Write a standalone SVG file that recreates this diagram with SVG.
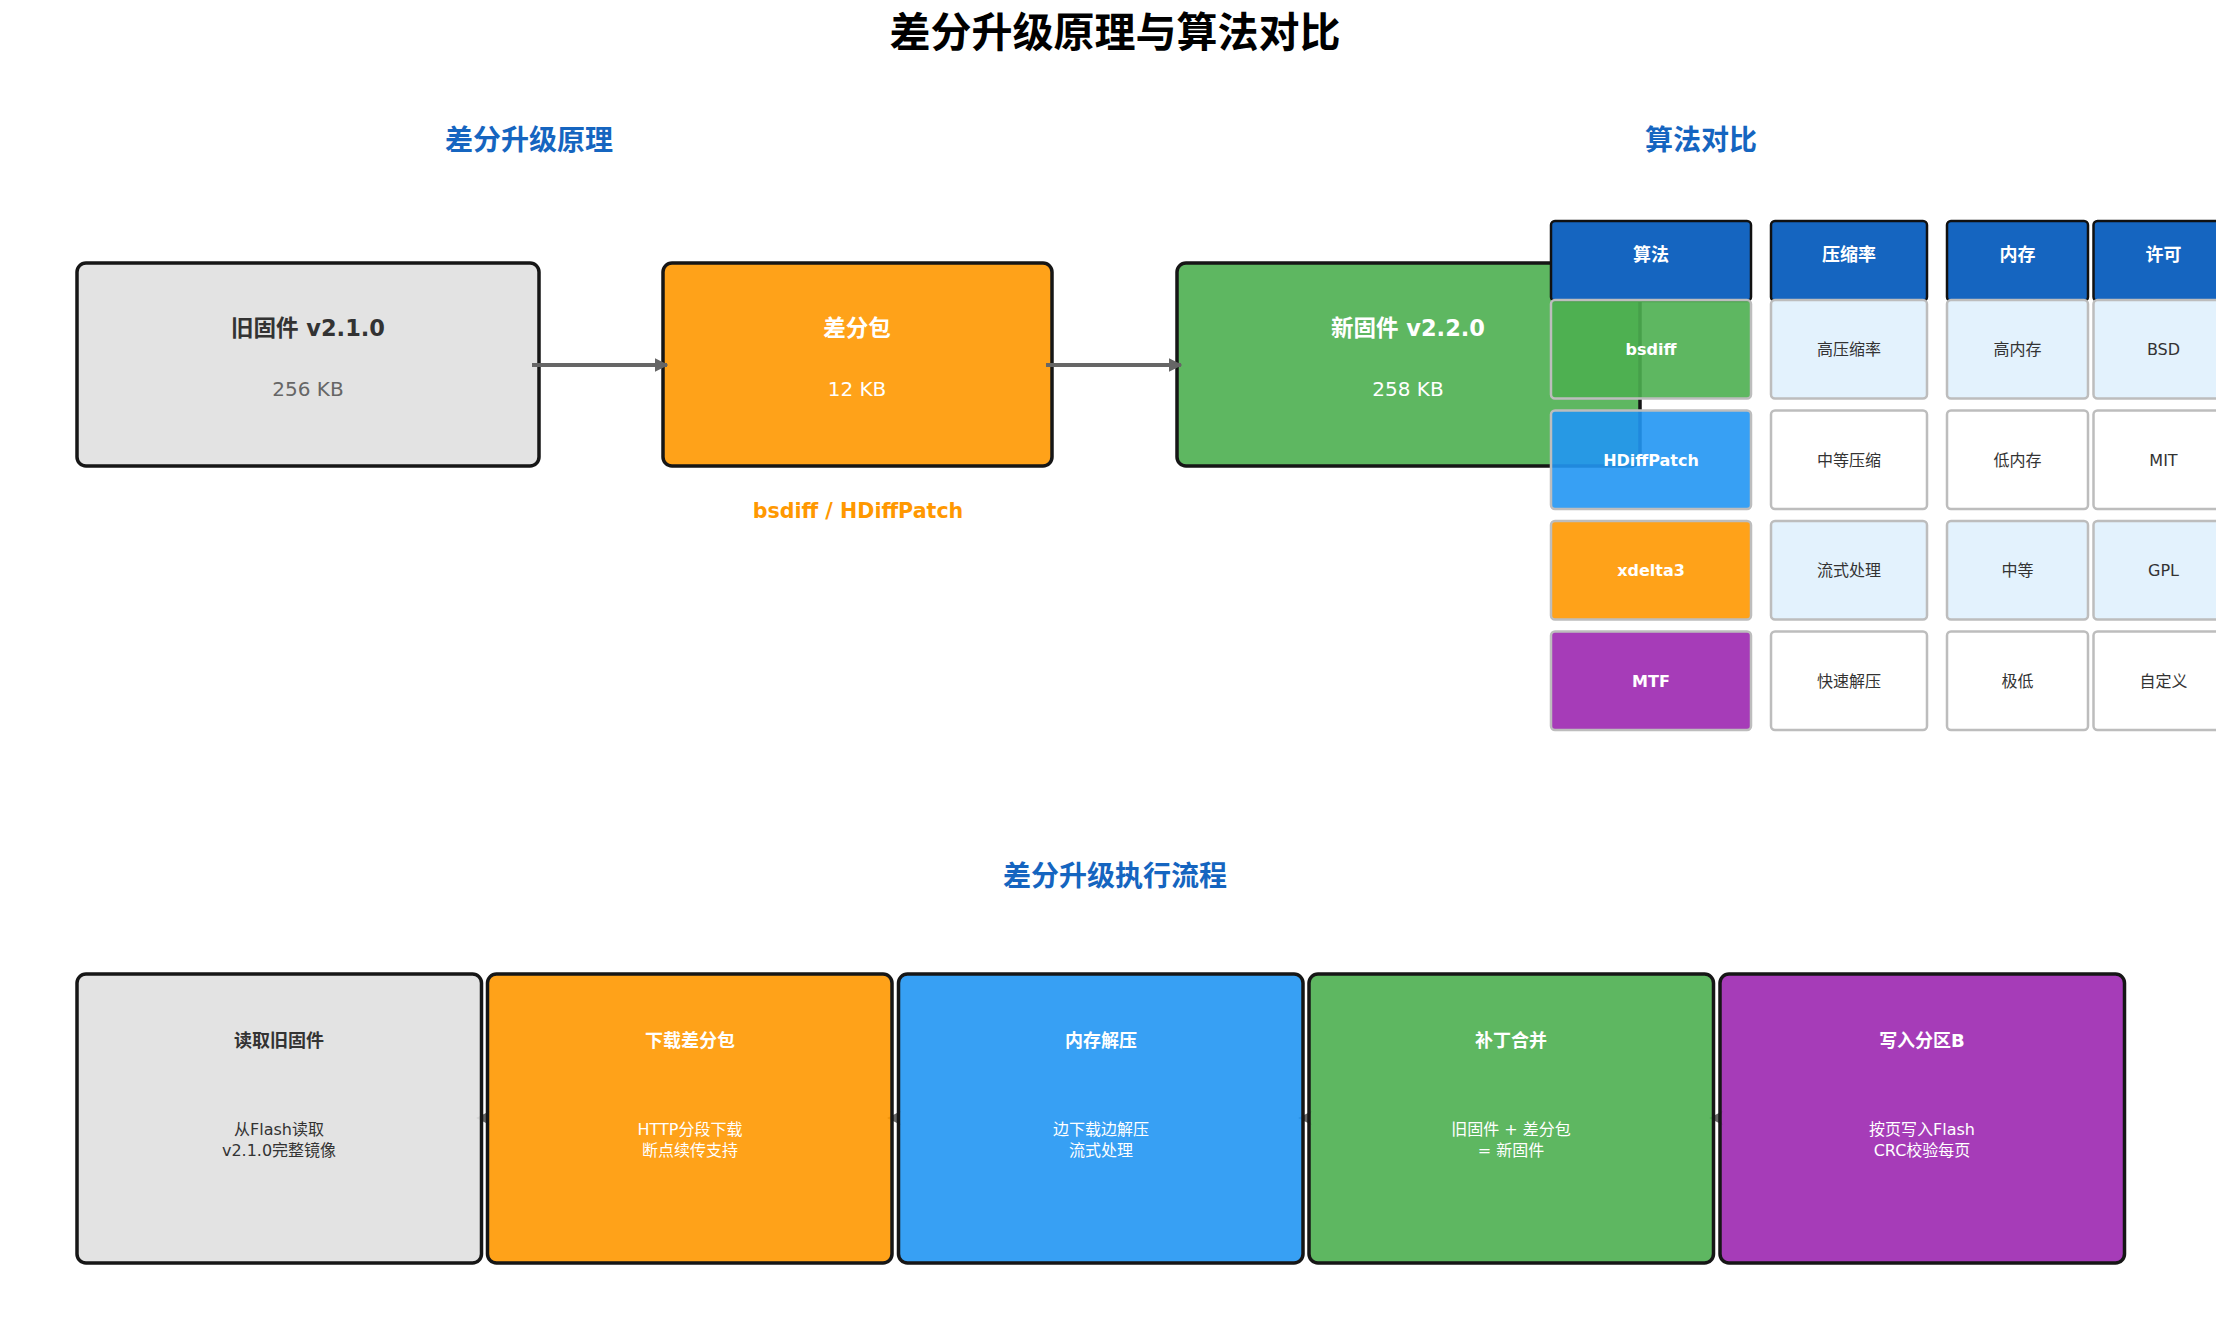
<svg xmlns="http://www.w3.org/2000/svg" width="2230" height="1330" viewBox="0 0 2230 1330">
<style>
text{font-family:"DejaVu Sans","Noto Sans CJK SC",sans-serif;text-anchor:middle}
.title{font-size:41px;font-weight:bold;fill:#000}
.sec{font-size:28px;font-weight:bold;fill:#1565C0}
.box{stroke:#161616;stroke-width:3.5;fill-opacity:0.9}
.bt{font-size:22.5px;font-weight:bold}
.bv{font-size:20px}
.hd{fill:#1565C0;stroke:#111;stroke-width:2.5}
.ht{font-size:18px;font-weight:bold;fill:#fff}
.c1{stroke:#BDBDBD;stroke-width:2.5;fill-opacity:0.9}
.cd{stroke:#BDBDBD;stroke-width:2.5}
.ct{font-size:16px;fill:#333}
.cb{font-size:16px;font-weight:bold;fill:#fff}
.st{font-size:18px;font-weight:bold}
.sd{font-size:16px}
.dark{fill:#333}
.white{fill:#fff}
.conn{stroke:#666;stroke-width:4;fill:none}
.head{fill:#666}
</style>
<defs>
<marker id="arr" viewBox="0 0 10 10" refX="9" refY="5" markerWidth="3.4" markerHeight="3.4" orient="auto" markerUnits="strokeWidth">
<path d="M0,0 L10,5 L0,10 z" fill="#666"/>
</marker>
<clipPath id="tclip"><rect x="0" y="0" width="2216" height="1330"/></clipPath>
</defs>
<rect width="2230" height="1330" fill="#fff"/>
<text class="title" x="1115" y="47">差分升级原理与算法对比</text>
<text class="sec" x="529" y="150">差分升级原理</text>
<text class="sec" x="1701" y="150">算法对比</text>
<text class="sec" x="1115" y="886">差分升级执行流程</text>

<g id="old-fw">
<rect class="box" x="77" y="263" width="462" height="203" rx="9" fill="#E0E0E0"/>
<text class="bt" x="308" y="336" fill="#333">旧固件 v2.1.0</text>
<text class="bv" x="308" y="396" fill="#666">256 KB</text>
</g>
<g id="diff-pkg">
<rect class="box" x="663" y="263" width="389" height="203" rx="9" fill="#FF9800"/>
<text class="bt white" x="857" y="336">差分包</text>
<text class="bv white" x="857" y="396">12 KB</text>
</g>
<text x="858" y="518" font-size="20.6" font-weight="bold" fill="#FF9800">bsdiff / HDiffPatch</text>
<g id="new-fw">
<rect class="box" x="1177" y="263" width="463" height="203" rx="9" fill="#4CAF50"/>
<text class="bt white" x="1408" y="336">新固件 v2.2.0</text>
<text class="bv white" x="1408" y="396">258 KB</text>
</g>

<g id="connectors">
<line class="conn" x1="532" y1="365" x2="667" y2="365" marker-end="url(#arr)"/>
<line class="conn" x1="1046" y1="365" x2="1181" y2="365" marker-end="url(#arr)"/>
<path class="head" d="M476,1118 L490,1111 L486,1118 L490,1125 z"/>
<path class="head" d="M887,1118 L901,1111 L897,1118 L901,1125 z"/>
<path class="head" d="M1298,1118 L1312,1111 L1308,1118 L1312,1125 z"/>
<path class="head" d="M1709,1118 L1723,1111 L1719,1118 L1723,1125 z"/>
</g>

<g id="table" clip-path="url(#tclip)">
<g id="header">
<rect class="hd" x="1551" y="221" width="200" height="80" rx="4"/>
<rect class="hd" x="1771" y="221" width="156" height="80" rx="4"/>
<rect class="hd" x="1947" y="221" width="141" height="80" rx="4"/>
<rect class="hd" x="2093.5" y="221" width="140" height="80" rx="4"/>
<text class="ht" x="1651" y="261">算法</text>
<text class="ht" x="1849" y="261">压缩率</text>
<text class="ht" x="2017.5" y="261">内存</text>
<text class="ht" x="2163.5" y="261">许可</text>
</g>
<g id="row-bsdiff">
<rect class="c1" x="1551" y="300" width="200" height="98.5" rx="4" fill="#4CAF50"/>
<rect class="cd" x="1771" y="300" width="156" height="98.5" rx="4" fill="#E3F2FD"/>
<rect class="cd" x="1947" y="300" width="141" height="98.5" rx="4" fill="#E3F2FD"/>
<rect class="cd" x="2093.5" y="300" width="140" height="98.5" rx="4" fill="#E3F2FD"/>
<text class="cb" x="1651" y="355">bsdiff</text>
<text class="ct" x="1849" y="355">高压缩率</text>
<text class="ct" x="2017.5" y="355">高内存</text>
<text class="ct" x="2163.5" y="355">BSD</text>
</g>
<g id="row-hdiffpatch">
<rect class="c1" x="1551" y="410.5" width="200" height="98.5" rx="4" fill="#2196F3"/>
<rect class="cd" x="1771" y="410.5" width="156" height="98.5" rx="4" fill="#fff"/>
<rect class="cd" x="1947" y="410.5" width="141" height="98.5" rx="4" fill="#fff"/>
<rect class="cd" x="2093.5" y="410.5" width="140" height="98.5" rx="4" fill="#fff"/>
<text class="cb" x="1651" y="465.5">HDiffPatch</text>
<text class="ct" x="1849" y="465.5">中等压缩</text>
<text class="ct" x="2017.5" y="465.5">低内存</text>
<text class="ct" x="2163.5" y="465.5">MIT</text>
</g>
<g id="row-xdelta3">
<rect class="c1" x="1551" y="521" width="200" height="98.5" rx="4" fill="#FF9800"/>
<rect class="cd" x="1771" y="521" width="156" height="98.5" rx="4" fill="#E3F2FD"/>
<rect class="cd" x="1947" y="521" width="141" height="98.5" rx="4" fill="#E3F2FD"/>
<rect class="cd" x="2093.5" y="521" width="140" height="98.5" rx="4" fill="#E3F2FD"/>
<text class="cb" x="1651" y="576">xdelta3</text>
<text class="ct" x="1849" y="576">流式处理</text>
<text class="ct" x="2017.5" y="576">中等</text>
<text class="ct" x="2163.5" y="576">GPL</text>
</g>
<g id="row-mtf">
<rect class="c1" x="1551" y="631.5" width="200" height="98.5" rx="4" fill="#9C27B0"/>
<rect class="cd" x="1771" y="631.5" width="156" height="98.5" rx="4" fill="#fff"/>
<rect class="cd" x="1947" y="631.5" width="141" height="98.5" rx="4" fill="#fff"/>
<rect class="cd" x="2093.5" y="631.5" width="140" height="98.5" rx="4" fill="#fff"/>
<text class="cb" x="1651" y="686.5">MTF</text>
<text class="ct" x="1849" y="686.5">快速解压</text>
<text class="ct" x="2017.5" y="686.5">极低</text>
<text class="ct" x="2163.5" y="686.5">自定义</text>
</g>
</g>

<g id="step1">
<rect class="box" x="77" y="974" width="404.5" height="289" rx="9" fill="#E0E0E0"/>
<text class="st dark" x="279" y="1047">读取旧固件</text>
<text class="sd dark" x="279" y="1135">从Flash读取</text>
<text class="sd dark" x="279" y="1156">v2.1.0完整镜像</text>
</g>
<g id="step2">
<rect class="box" x="487.5" y="974" width="404.5" height="289" rx="9" fill="#FF9800"/>
<text class="st white" x="690" y="1047">下载差分包</text>
<text class="sd white" x="690" y="1135">HTTP分段下载</text>
<text class="sd white" x="690" y="1156">断点续传支持</text>
</g>
<g id="step3">
<rect class="box" x="898.5" y="974" width="404.5" height="289" rx="9" fill="#2196F3"/>
<text class="st white" x="1101" y="1047">内存解压</text>
<text class="sd white" x="1101" y="1135">边下载边解压</text>
<text class="sd white" x="1101" y="1156">流式处理</text>
</g>
<g id="step4">
<rect class="box" x="1309" y="974" width="404.5" height="289" rx="9" fill="#4CAF50"/>
<text class="st white" x="1511" y="1047">补丁合并</text>
<text class="sd white" x="1511" y="1135">旧固件 + 差分包</text>
<text class="sd white" x="1511" y="1156">= 新固件</text>
</g>
<g id="step5">
<rect class="box" x="1720" y="974" width="404.5" height="289" rx="9" fill="#9C27B0"/>
<text class="st white" x="1922" y="1047">写入分区B</text>
<text class="sd white" x="1922" y="1135">按页写入Flash</text>
<text class="sd white" x="1922" y="1156">CRC校验每页</text>
</g>
</svg>
